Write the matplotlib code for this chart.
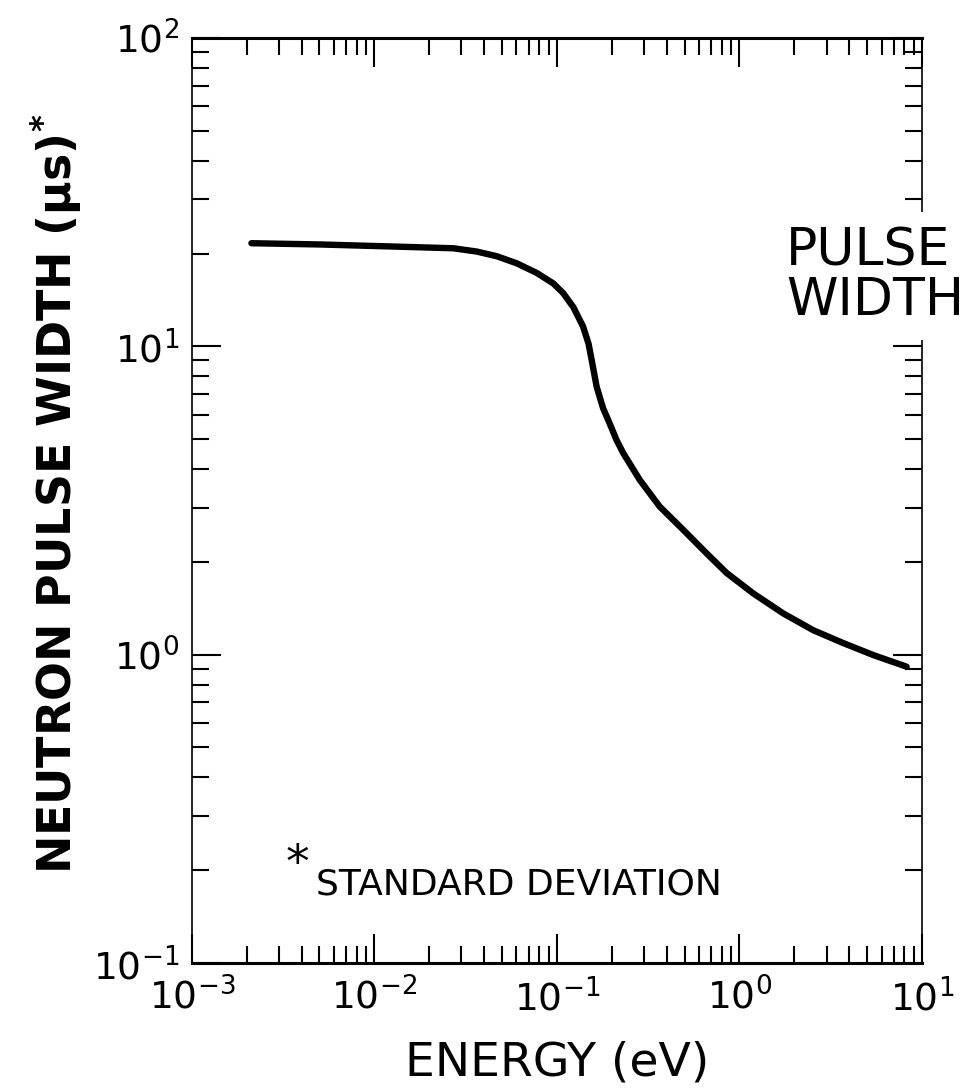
import matplotlib
matplotlib.use("Agg")
import matplotlib.pyplot as plt
from matplotlib.ticker import LogLocator, NullFormatter

plt.rcParams['font.family'] = ['DejaVu Sans']
plt.rcParams['mathtext.default'] = 'regular'

# energy (eV) and pulse width (us)
energy = [2.12e-3, 5.02e-3, 0.0117, 0.0271, 0.0363, 0.0468, 0.0601, 0.0775,
          0.0955, 0.108, 0.123, 0.139, 0.149, 0.155, 0.165, 0.179, 0.195,
          0.212, 0.231, 0.285, 0.366, 0.492, 0.661, 0.851, 1.19, 1.74, 2.54,
          3.71, 5.41, 8.24]
width = [21.6, 21.4, 21.1, 20.8, 20.3, 19.6, 18.6, 17.3,
         16.0, 14.9, 13.4, 11.6, 10.2, 9.03, 7.40, 6.30, 5.60,
         4.97, 4.50, 3.68, 3.02, 2.54, 2.13, 1.84, 1.58, 1.36, 1.20,
         1.09, 0.997, 0.914]

fig = plt.figure(figsize=(9.69, 10.89), dpi=100)
ax = fig.add_axes([0.198, 0.1157, 0.7535, 0.8494])

ax.plot(energy, width, color='black', lw=4.6, solid_capstyle='round',
        solid_joinstyle='round')

ax.set_xscale('log')
ax.set_yscale('log')
ax.set_xlim(1e-3, 1e1)
ax.set_ylim(1e-1, 1e2)

for a in (ax.xaxis, ax.yaxis):
    a.set_major_locator(LogLocator(base=10))
    a.set_minor_locator(LogLocator(base=10, subs=range(2, 10)))
    a.set_minor_formatter(NullFormatter())

ax.tick_params(which='both', direction='in', top=True, right=True,
               width=1.5, labelsize=27)
ax.tick_params(which='major', length=21)
ax.tick_params(which='minor', length=12)
ax.tick_params(axis='x', pad=11)
ax.tick_params(axis='y', pad=9)

ax.spines['top'].set_linewidth(2.2)
ax.spines['bottom'].set_linewidth(2.2)
ax.spines['left'].set_linewidth(1.2)
ax.spines['right'].set_linewidth(1.2)

ax.set_xlabel('ENERGY (eV)', fontsize=34, labelpad=16)
fig.text(0.057, 0.547, 'NEUTRON PULSE WIDTH (µs)$^{*}$', rotation=90,
         ha='center', va='center', fontsize=33, fontweight='bold')

ax.text(0.144, 0.107, '*', transform=ax.transAxes, fontsize=34,
        ha='center', va='center')
ax.text(0.17, 0.085, 'STANDARD DEVIATION', transform=ax.transAxes,
        fontsize=26, ha='left', va='center')

fig.text(786 / 969, 1 - 276 / 1089, 'PULSE\nWIDTH', fontsize=37.5,
         ha='left', va='center', linespacing=0.98, zorder=5,
         bbox=dict(facecolor='white', edgecolor='none', boxstyle='square,pad=0.27'))

fig.savefig('out.png', dpi=100)
